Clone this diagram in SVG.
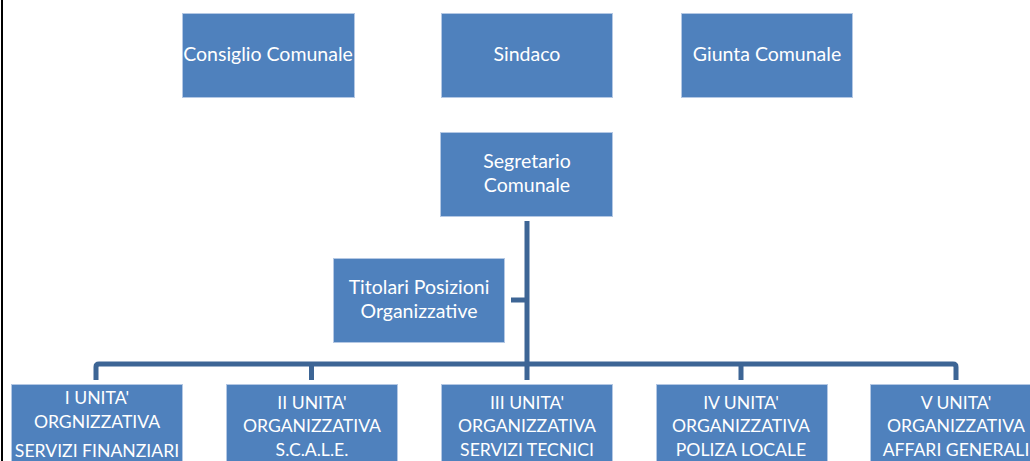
<svg xmlns="http://www.w3.org/2000/svg" width="1030" height="461" viewBox="0 0 1030 461">
<style>
.box{fill:#4f81bd;stroke:#b4c8e4;stroke-width:1}
.t{font-family:Lato,"Liberation Sans",sans-serif;fill:#ffffff;text-anchor:middle}
.t19{font-size:19.5px}
.t17{font-size:17.6px}
.c{fill:none;stroke:#3d6595;stroke-width:5;stroke-linejoin:round}
</style>
<rect x="0" y="0" width="1030" height="461" fill="#ffffff"/>
<line x1="2" y1="0" x2="2" y2="461" stroke="#000000" stroke-width="2"/>
<g id="connectors">
<path class="c" d="M527 221 V380"/>
<path class="c" d="M511 300 H527"/>
<path class="c" d="M96 380 V367 Q96 364 99 364 H953 Q956 364 956 367 V380"/>
<path class="c" d="M311.5 364 V380"/>
<path class="c" d="M741 364 V380"/>
</g>
<g id="consiglio"><rect class="box" x="182.5" y="13.5" width="172" height="84"/><text class="t t19" x="268" y="61">Consiglio Comunale</text></g>
<g id="sindaco"><rect class="box" x="441.5" y="13.5" width="171" height="84"/><text class="t t19" x="527" y="61">Sindaco</text></g>
<g id="giunta"><rect class="box" x="681.5" y="13.5" width="171" height="84"/><text class="t t19" x="767" y="61">Giunta Comunale</text></g>
<g id="segretario"><rect class="box" x="440.5" y="132.5" width="172" height="84"/><text class="t t19" x="527" y="168">Segretario</text><text class="t t19" x="527" y="192">Comunale</text></g>
<g id="titolari"><rect class="box" x="333.5" y="258.5" width="171" height="84"/><text class="t t19" x="419" y="294">Titolari Posizioni</text><text class="t t19" x="419" y="318">Organizzative</text></g>
<g id="unita1"><rect class="box" x="11.5" y="384.5" width="171" height="84"/><text class="t t17" x="97" y="404">I UNITA'</text><text class="t t17" x="97" y="428">ORGNIZZATIVA</text><text class="t t17" x="97" y="457">SERVIZI FINANZIARI</text></g>
<g id="unita2"><rect class="box" x="226.5" y="384.5" width="171" height="84"/><text class="t t17" x="312" y="409">II UNITA'</text><text class="t t17" x="312" y="432">ORGANIZZATIVA</text><text class="t t17" x="312" y="456">S.C.A.L.E.</text></g>
<g id="unita3"><rect class="box" x="441.5" y="384.5" width="171" height="84"/><text class="t t17" x="527" y="409">III UNITA'</text><text class="t t17" x="527" y="432">ORGANIZZATIVA</text><text class="t t17" x="527" y="456">SERVIZI TECNICI</text></g>
<g id="unita4"><rect class="box" x="656.5" y="384.5" width="171" height="84"/><text class="t t17" x="741" y="409">IV UNITA'</text><text class="t t17" x="741" y="432">ORGANIZZATIVA</text><text class="t t17" x="741" y="456">POLIZA LOCALE</text></g>
<g id="unita5"><rect class="box" x="870.5" y="384.5" width="172" height="84"/><text class="t t17" x="956" y="409">V UNITA'</text><text class="t t17" x="956" y="432">ORGANIZZATIVA</text><text class="t t17" x="956" y="456">AFFARI GENERALI</text></g>
</svg>
